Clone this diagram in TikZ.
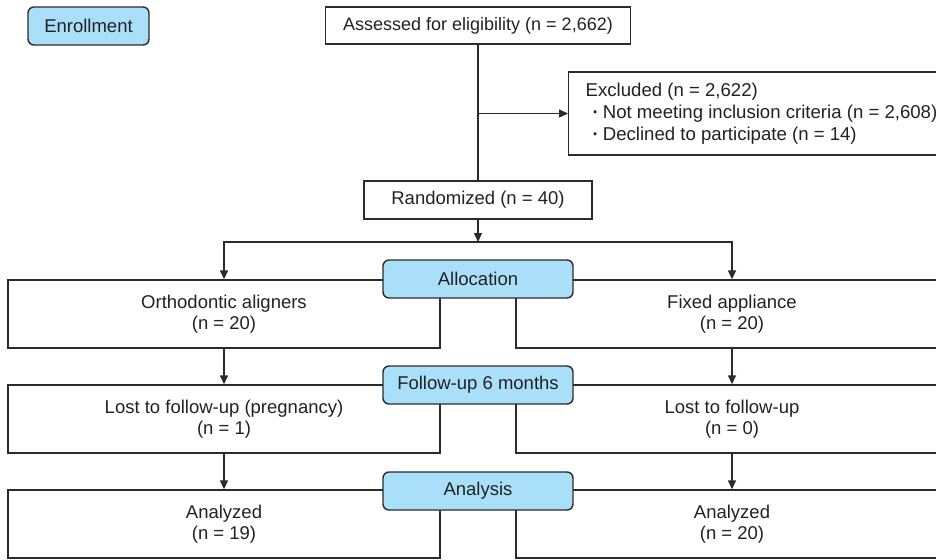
\documentclass[tikz,border=0pt]{standalone}
\usepackage{fontspec}
\setmainfont{Liberation Sans}
\usetikzlibrary{arrows.meta}
\definecolor{phaseblue}{HTML}{A9DFF8}
\definecolor{linec}{HTML}{2B2B2B}
\definecolor{textc}{HTML}{222222}
\begin{document}
\begin{tikzpicture}[x=1pt,y=-1pt,
  every node/.style={font=\fontsize{18.5}{20.5}\selectfont, text=textc},
  plainbox/.style={draw=linec, line width=1.4pt, fill=white, inner sep=0pt, align=center},
  armbox/.style={plainbox, minimum width=432pt, minimum height=68pt},
  phasebox/.style={draw=linec, line width=1.4pt, fill=phaseblue, rounded corners=6pt, inner sep=0pt, minimum width=190pt, minimum height=38pt},
  conn/.style={draw=linec, line width=1.4pt},
  arr/.style={conn, -{Triangle[length=9pt,width=8pt]}}
]
\useasboundingbox (0,0) rectangle (936,559);
\clip (0,0) rectangle (936,559);

% top part
\node[phasebox, minimum width=121pt] (enroll) at (88.5,26) {Enrollment};
\node[plainbox, minimum width=305pt, minimum height=37pt, font=\fontsize{18}{20}\selectfont] (assess) at (478,25.5) {Assessed for eligibility (n = 2,662)};
\node[plainbox, anchor=west, minimum height=83pt, inner xsep=17pt, align=left, font=\fontsize{18.6}{22}\selectfont] (excl) at (568,113.5)
  {Excluded (n = 2,622)\\\hspace*{7pt}{\bfseries ·}\hspace{4pt}Not meeting inclusion criteria (n = 2,608)\\\hspace*{7pt}{\bfseries ·}\hspace{4pt}Declined to participate (n = 14)};
\node[plainbox, minimum width=228pt, minimum height=38pt] (rand) at (478,200) {Randomized (n = 40)};

% arm boxes
\node[armbox] (a1) at (224,314) {Orthodontic aligners\\(n = 20)};
\node[armbox] (b1) at (732,314) {Fixed appliance\\(n = 20)};
\node[armbox] (a2) at (224,419) {Lost to follow-up (pregnancy)\\(n = 1)};
\node[armbox] (b2) at (732,419) {Lost to follow-up\\(n = 0)};
\node[armbox] (a3) at (224,524) {Analyzed\\(n = 19)};
\node[armbox] (b3) at (732,524) {Analyzed\\(n = 20)};

% connectors
\coordinate (split) at (478,242);
\draw[conn] (assess.south) -- (rand.north);
\draw[arr] (assess.south |- excl.west) -- (excl.west);
\draw[arr] (rand.south) -- (split);
\draw[arr] (split) -| (a1.north);
\draw[arr] (split) -| (b1.north);
\draw[arr] (a1.south) -- (a2.north);
\draw[arr] (b1.south) -- (b2.north);
\draw[arr] (a2.south) -- (a3.north);
\draw[arr] (b2.south) -- (b3.north);

% phase labels
\node[phasebox] (alloc) at (478,279) {Allocation};
\node[phasebox] (follow) at (478,385) {Follow-up 6 months};
\node[phasebox] (analysis) at (478,491) {Analysis};
\end{tikzpicture}
\end{document}
